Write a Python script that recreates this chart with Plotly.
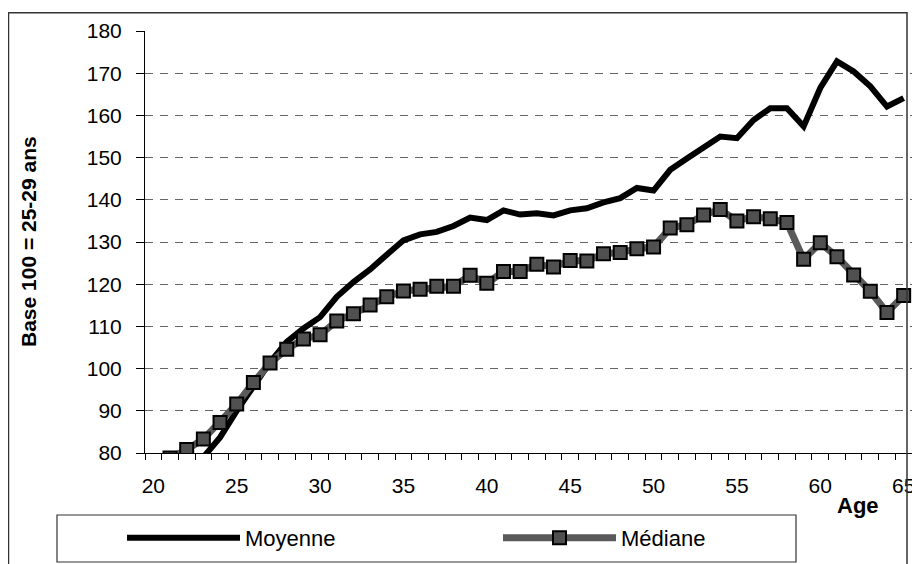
import plotly.graph_objects as go

# ---- data ----
ages_moyenne = list(range(23, 66))
moyenne = [79.0, 83.7, 90.0, 96.0, 101.5, 106.3, 109.5, 112.2, 117.0, 120.5,
           123.5, 127.0, 130.4, 131.8, 132.4, 133.8, 135.8, 135.2, 137.5, 136.5,
           136.8, 136.3, 137.5, 138.0, 139.4, 140.4, 142.8, 142.2, 147.1, 149.8,
           152.6, 155.0, 154.6, 158.9, 161.7, 161.7, 157.4, 166.5, 172.8, 170.4,
           166.9, 162.1, 164.1]

ages_mediane = list(range(21, 66))
mediane = [78.8, 80.8, 83.3, 87.2, 91.6, 96.7, 101.3, 104.6, 107.0, 108.0,
           111.3, 113.0, 115.1, 117.0, 118.4, 118.8, 119.5, 119.5, 122.1, 120.2,
           123.0, 123.0, 124.7, 124.1, 125.6, 125.5, 127.2, 127.5, 128.4, 128.8,
           133.3, 134.1, 136.4, 137.7, 135.0, 136.0, 135.5, 134.6, 125.9, 129.8,
           126.5, 122.2, 118.3, 113.3, 117.3]

x_tick_vals = [20, 25, 30, 35, 40, 45, 50, 55, 60, 65]
y_tick_vals = [80, 90, 100, 110, 120, 130, 140, 150, 160, 170, 180]
minor_x = [19.5 + i for i in range(47)]

FONT = "Liberation Sans, Arial, sans-serif"

fig = go.Figure()
fig.add_trace(go.Scatter(
    x=ages_moyenne, y=moyenne, name="Moyenne", mode="lines",
    line=dict(color="black", width=6),
))
fig.add_trace(go.Scatter(
    x=ages_mediane, y=mediane, name="Médiane", mode="lines+markers",
    line=dict(color="#5a5a5a", width=7),
    marker=dict(symbol="square", size=13, color="#505050",
                line=dict(color="black", width=2)),
))

# the page body has an 8px margin: lay out in page pixels, shifted by OFF
OFF = 8
W, H = 920 - OFF, 564 - OFF
# plot area in page pixels: x 145..912, y 31..453
L = 145 - OFF
R = W - (912 - OFF)
T = 31 - OFF
B = H - (453 - OFF)
pw, ph = W - L - R, H - T - B


def px(x):
    return (x - OFF - L) / pw


def py(y):
    return 1 - (y - OFF - T) / ph


fig.update_layout(
    width=W, height=H,
    margin=dict(l=L, r=R, t=T, b=B, autoexpand=False),
    paper_bgcolor="white", plot_bgcolor="white",
    font=dict(family=FONT, size=21, color="black"),
    showlegend=True,
    legend=dict(
        orientation="h", x=px(122), y=py(538), xanchor="left", yanchor="middle",
        bgcolor="rgba(0,0,0,0)", borderwidth=0,
        font=dict(family=FONT, size=22),
        itemwidth=113, entrywidth=248, entrywidthmode="pixels",
        tracegroupgap=0,
    ),
    xaxis=dict(
        range=[19.5, 65.5], tickmode="array", tickvals=x_tick_vals,
        ticks="", showgrid=False, zeroline=False,
        showline=True, linecolor="black", linewidth=1,
        ticklabelstandoff=14,
        tickfont=dict(family=FONT, size=21),
        minor=dict(tickmode="array", tickvals=minor_x, ticks="outside",
                   ticklen=6, tickcolor="black", tickwidth=1, showgrid=False),
    ),
    yaxis=dict(
        range=[80, 180], tickmode="array", tickvals=y_tick_vals,
        ticks="outside", ticklen=8, tickcolor="black",
        showgrid=True, gridcolor="#666666", gridwidth=1, griddash="8px,7px",
        zeroline=False, showline=True, linecolor="black", linewidth=1,
        ticklabelstandoff=10,
        tickfont=dict(family=FONT, size=21),
    ),
    yaxis2=dict(
        overlaying="y", matches="y", anchor="x", side="left",
        range=[80, 180], tickmode="array", tickvals=y_tick_vals,
        ticks="inside", ticklen=7, tickcolor="black",
        showticklabels=False, showgrid=False, zeroline=False, showline=False,
    ),
    shapes=[
        dict(type="rect", xref="paper", yref="paper",
             x0=px(8.5), x1=px(907), y0=py(12.7), y1=py(580),
             line=dict(color="#333333", width=1.5), layer="above"),
        dict(type="rect", xref="paper", yref="paper",
             x0=px(57), x1=px(796), y0=py(515), y1=py(562),
             line=dict(color="#333333", width=1.2), layer="above"),
    ],
    annotations=[
        dict(text="<b>Age</b>", xref="paper", yref="paper",
             x=px(858), y=py(505), showarrow=False,
             font=dict(family=FONT, size=22), xanchor="center", yanchor="middle"),
        dict(text="<b>Base 100 = 25-29 ans</b>", xref="paper", yref="paper",
             x=px(29), y=py(241), showarrow=False, textangle=-90,
             font=dict(family=FONT, size=21), xanchor="center", yanchor="middle"),
    ],
)

fig.write_html("out.html")
